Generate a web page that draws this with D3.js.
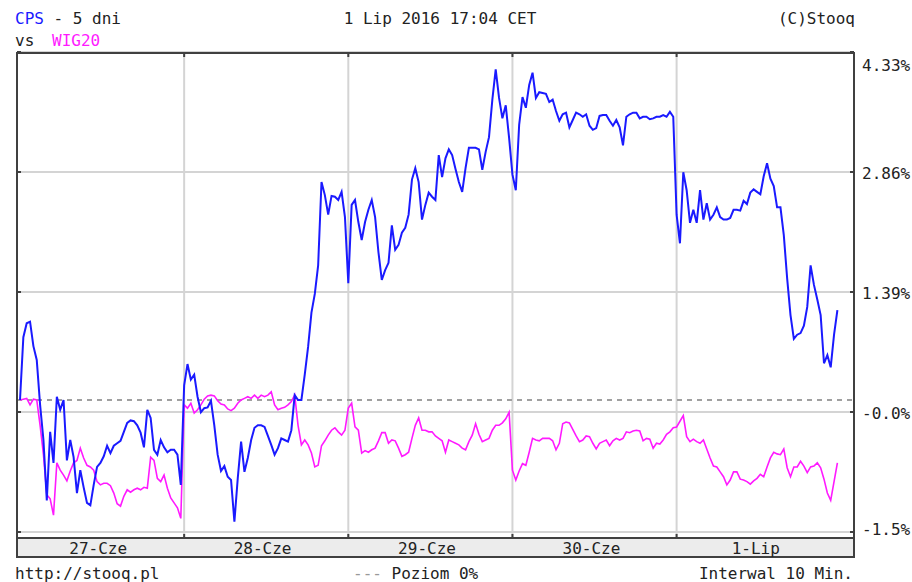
<!DOCTYPE html>
<html>
<head>
<meta charset="utf-8">
<script src="https://cdn.jsdelivr.net/npm/d3@7"></script>
<style>
  body { margin: 0; background: #fff; }
  svg { display: block; font-family: 'DejaVu Sans Mono', monospace; font-size: 16px; }
</style>
</head>
<body>
<div id="chart"></div>
<script>
var days = ['27-Cze', '28-Cze', '29-Cze', '30-Cze', '1-Lip'];
var pointsPerDay = 49;

// CPS, % change, 10 min interval
var cps = [
  0, 0.77, 0.94, 0.96, 0.66, 0.49, -0.06, -0.49, -1.23, -0.39, -0.77, 0.04, -0.12, 0.00, -0.74, -0.49, -0.70,
  -1.14, -0.86, -1.07, -1.26, -1.29, -1.04, -0.82, -0.77, -0.69, -0.56, -0.65, -0.56, -0.53, -0.50, -0.39, -0.28,
  -0.25, -0.26, -0.31, -0.40, -0.58, -0.12, -0.22, -0.61, -0.67, -0.49, -0.58, -0.64, -0.61, -0.61, -0.67, -1.04,

  0.18, 0.44, 0.25, 0.31, 0.04, -0.15, -0.10, -0.09, -0.01, -0.31, -0.67, -0.87, -0.81, -0.94, -0.98, -1.49, -0.96,
  -0.51, -0.88, -0.71, -0.49, -0.34, -0.31, -0.31, -0.33, -0.44, -0.55, -0.67, -0.59, -0.47, -0.49, -0.51, -0.37,
  0.06, 0, 0, 0.31, 0.65, 1.07, 1.30, 1.65, 2.67, 2.51, 2.27, 2.50, 2.49, 2.45, 2.55, 2.24,

  1.43, 2.39, 2.45, 2.18, 1.96, 2.18, 2.33, 2.45, 2.24, 1.81, 1.47, 1.59, 1.68, 2.14, 1.84, 1.90, 2.05,
  2.11, 2.27, 2.70, 2.84, 2.67, 2.21, 2.39, 2.54, 2.49, 2.45, 3.00, 2.73, 2.96, 3.07, 3.00, 2.83,
  2.67, 2.55, 2.84, 3.09, 3.09, 3.09, 3.07, 2.82, 3.04, 3.22, 3.68, 4.05, 3.70, 3.45, 3.61, 3.21,

  2.76, 2.57, 3.37, 3.71, 3.58, 3.86, 4.01, 3.70, 3.77, 3.76, 3.75, 3.65, 3.68, 3.54, 3.42, 3.50, 3.52,
  3.34, 3.43, 3.52, 3.50, 3.47, 3.50, 3.36, 3.31, 3.33, 3.48, 3.49, 3.49, 3.42, 3.36, 3.43, 3.34,
  3.12, 3.47, 3.50, 3.52, 3.52, 3.45, 3.47, 3.47, 3.44, 3.45, 3.47, 3.47, 3.49, 3.47, 3.53, 3.47,

  2.27, 1.92, 2.79, 2.57, 2.17, 2.33, 2.17, 2.57, 2.21, 2.41, 2.21, 2.27, 2.36, 2.24, 2.21, 2.21, 2.23,
  2.33, 2.33, 2.32, 2.44, 2.40, 2.54, 2.58, 2.55, 2.52, 2.74, 2.90, 2.71, 2.62, 2.36, 2.36, 2.02,
  1.49, 1.04, 0.75, 0.80, 0.82, 0.91, 1.14, 1.65, 1.41, 1.23, 1.04, 0.45, 0.55, 0.40, 0.80, 1.10
];

// WIG20, % change
var wig20 = [
  0, 0.01, 0.02, -0.06, 0.01, 0, -0.31, -0.67, -1.16, -1.21, -1.41, -0.77, -0.86, -0.92, -0.99, -0.87, -0.77,
  -0.74, -0.59, -0.71, -0.80, -0.82, -0.86, -1.00, -1.04, -1.02, -1.02, -1.05, -1.14, -1.27, -1.30, -1.18, -1.10,
  -1.13, -1.10, -1.08, -1.10, -1.07, -1.08, -0.70, -0.74, -0.96, -1.00, -0.92, -1.08, -1.20, -1.26, -1.32, -1.45,

  -0.06, -0.10, -0.04, -0.16, -0.12, -0.06, 0.01, 0.05, 0.06, 0.05, -0.01, -0.05, -0.06, -0.11, -0.13, -0.10, -0.04,
  0, 0.02, 0.04, 0.02, 0.06, 0.02, 0.06, 0.04, 0.06, 0.10, -0.06, -0.12, -0.10, -0.09, -0.06, -0.02,
  0.06, -0.31, -0.55, -0.49, -0.55, -0.65, -0.82, -0.80, -0.56, -0.50, -0.43, -0.37, -0.34, -0.39, -0.43, -0.37,

  -0.10, -0.04, -0.33, -0.37, -0.65, -0.62, -0.64, -0.61, -0.59, -0.50, -0.40, -0.40, -0.53, -0.49, -0.50, -0.59, -0.69,
  -0.67, -0.64, -0.47, -0.31, -0.22, -0.37, -0.37, -0.39, -0.39, -0.44, -0.47, -0.50, -0.64, -0.49, -0.51, -0.53,
  -0.55, -0.59, -0.61, -0.51, -0.43, -0.29, -0.42, -0.51, -0.49, -0.47, -0.37, -0.31, -0.31, -0.28, -0.23, -0.15,

  -0.86, -0.98, -0.87, -0.78, -0.80, -0.64, -0.47, -0.49, -0.50, -0.47, -0.47, -0.47, -0.50, -0.61, -0.53, -0.29, -0.27,
  -0.28, -0.36, -0.44, -0.51, -0.49, -0.44, -0.45, -0.53, -0.60, -0.53, -0.51, -0.49, -0.56, -0.50, -0.47, -0.49,
  -0.47, -0.39, -0.40, -0.38, -0.37, -0.38, -0.50, -0.47, -0.48, -0.59, -0.53, -0.54, -0.49, -0.42, -0.39, -0.34,

  -0.33, -0.26, -0.19, -0.45, -0.51, -0.48, -0.51, -0.53, -0.49, -0.60, -0.71, -0.81, -0.82, -0.88, -0.94, -1.04, -0.98,
  -0.88, -0.88, -0.97, -0.98, -1.00, -1.03, -0.99, -0.96, -0.91, -0.94, -0.82, -0.71, -0.64, -0.66, -0.67, -0.60,
  -0.83, -0.94, -0.82, -0.82, -0.75, -0.81, -0.89, -0.82, -0.81, -0.77, -0.83, -0.97, -1.14, -1.23, -1.00, -0.77
];

var yTicks = [4.263, 2.793, 1.323, -0.147, -1.617];
var yTickLabels = ['4.33%', '2.86%', '1.39%', '-0.0%', '-1.5%'];

var W = 912, H = 582;
var box = {left: 17, right: 854, top: 53, bottom: 538, band: 557};
var frameColor = '#404040', gridColor = '#d4d4d4', textColor = '#222';
var blue = '#1a1aff', pink = '#ff1aff';

var svg = d3.select('#chart').append('svg')
    .attr('width', W)
    .attr('height', H);

svg.append('rect').attr('width', W).attr('height', H).attr('fill', '#fff');

var x = d3.scaleLinear().domain([0, cps.length - 1]).range([20, 837.4]);
var y = d3.scaleLinear().domain([-1.617, 4.263]).range([532, 52]);
var xDay = d3.scaleBand().domain(days).range([16, 838]);

var dayEdges = d3.range(1, days.length).map(function(d){ return x(d * pointsPerDay); });

// grid
svg.append('g').selectAll('line')
    .data(yTicks)
    .enter().append('line')
    .attr('x1', box.left).attr('x2', box.right)
    .attr('y1', function(d){ return y(d); })
    .attr('y2', function(d){ return y(d); })
    .attr('stroke', gridColor).attr('stroke-width', 2);

svg.append('g').selectAll('line')
    .data(dayEdges)
    .enter().append('line')
    .attr('x1', function(d){ return d; }).attr('x2', function(d){ return d; })
    .attr('y1', box.top).attr('y2', box.bottom)
    .attr('stroke', gridColor).attr('stroke-width', 2);

// poziom 0%
svg.append('line')
    .attr('x1', box.left).attr('x2', box.right)
    .attr('y1', y(0)).attr('y2', y(0))
    .attr('stroke', '#a0a0a0').attr('stroke-width', 2)
    .attr('stroke-dasharray', '5,5');

var line = d3.line()
    .x(function(d, i){ return x(i); })
    .y(function(d){ return y(d); });

svg.append('path').datum(wig20)
    .attr('d', line)
    .attr('fill', 'none').attr('stroke', pink).attr('stroke-width', 1.6);

svg.append('path').datum(cps)
    .attr('d', line)
    .attr('fill', 'none').attr('stroke', blue).attr('stroke-width', 2);

// frame + day band
svg.append('rect')
    .attr('x', box.left).attr('y', box.top)
    .attr('width', box.right - box.left).attr('height', box.bottom - box.top)
    .attr('fill', 'none').attr('stroke', frameColor).attr('stroke-width', 2);

svg.append('rect')
    .attr('x', box.left).attr('y', box.bottom)
    .attr('width', box.right - box.left).attr('height', box.band - box.bottom)
    .attr('fill', '#ececec').attr('stroke', frameColor).attr('stroke-width', 2);

var ticks = svg.append('g').attr('stroke', frameColor).attr('stroke-width', 2);
yTicks.forEach(function(t){
    ticks.append('line').attr('x1', box.left).attr('x2', box.left + 4).attr('y1', y(t)).attr('y2', y(t));
    ticks.append('line').attr('x1', box.right - 4).attr('x2', box.right).attr('y1', y(t)).attr('y2', y(t));
});
dayEdges.forEach(function(d){
    ticks.append('line').attr('x1', d).attr('x2', d).attr('y1', box.top).attr('y2', box.top + 4);
    ticks.append('line').attr('x1', d).attr('x2', d).attr('y1', box.bottom - 4).attr('y2', box.bottom);
});

// axes
var yAxis = d3.axisRight(y)
    .tickValues(yTicks)
    .tickFormat(function(d, i){ return yTickLabels[i]; })
    .tickSize(0).tickPadding(0);

var ya = svg.append('g')
    .attr('transform', 'translate(862,0)')
    .call(yAxis)
    .attr('font-family', null).attr('font-size', null);
ya.select('.domain').remove();
ya.selectAll('text')
    .attr('dy', null)
    .attr('fill', textColor)
    .attr('y', function(d){ var p = y(d); return Math.max(70, Math.min(534, p + 6)) - p; });

var xAxis = d3.axisBottom(xDay).tickSize(0).tickPadding(0);
var xa = svg.append('g')
    .attr('transform', 'translate(0,' + box.bottom + ')')
    .call(xAxis)
    .attr('font-family', null).attr('font-size', null);
xa.select('.domain').remove();
xa.selectAll('text').attr('dy', null).attr('y', 16).attr('fill', textColor);

// texts
var t1 = svg.append('text').attr('x', 15).attr('y', 24).attr('fill', textColor);
t1.append('tspan').attr('fill', blue).text('CPS');
t1.append('tspan').text(' - 5 dni');

svg.append('text').attr('x', 15).attr('y', 46).attr('fill', textColor).text('vs');
svg.append('text').attr('x', 52).attr('y', 46).attr('fill', pink).text('WIG20');

svg.append('text').attr('x', 440).attr('y', 24).attr('text-anchor', 'middle').attr('fill', textColor)
    .text('1 Lip 2016 17:04 CET');
svg.append('text').attr('x', 855).attr('y', 24).attr('text-anchor', 'end').attr('fill', textColor)
    .text('(C)Stooq');

svg.append('text').attr('x', 15).attr('y', 579).attr('fill', textColor).text('http://stooq.pl');
var t2 = svg.append('text').attr('x', 353).attr('y', 579).attr('fill', textColor);
t2.append('tspan').attr('fill', '#999').text('---');
t2.append('tspan').text(' Poziom 0%');
svg.append('text').attr('x', 853).attr('y', 579).attr('text-anchor', 'end').attr('fill', textColor)
    .text('Interwal 10 Min.');
</script>
</body>
</html>
